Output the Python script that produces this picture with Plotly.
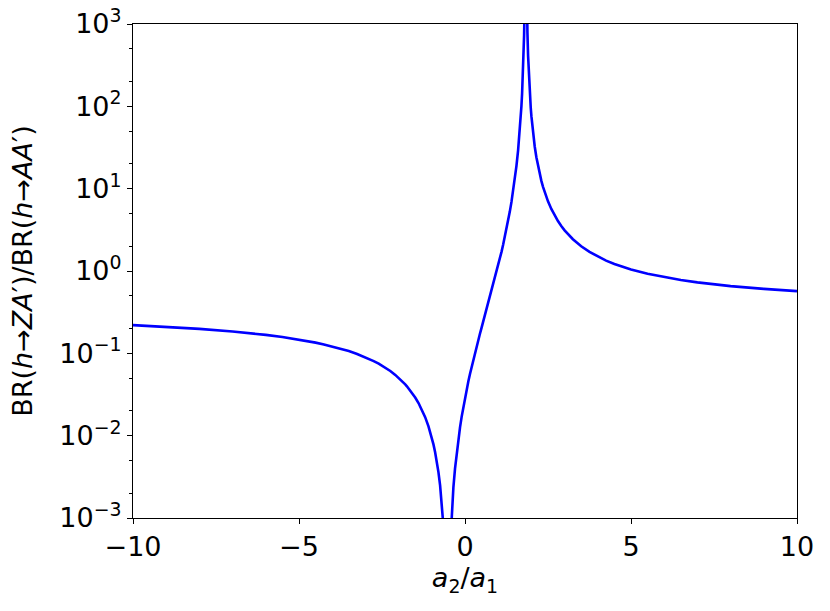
import plotly.graph_objects as go

# a2/a1 values and the ratio
# left part: from -10 up to the pole near a2/a1 = 1.83
ratio_x = [-10, -9, -8, -7, -6.5, -6, -5.5, -5, -4.5, -4.25, -4, -3.75, -3.5, -3.25,
           -3, -2.75, -2.6, -2.5, -2.4, -2.25, -2.1, -2, -1.9, -1.8, -1.75, -1.6,
           -1.5, -1.4, -1.3, -1.25, -1.2, -1.1, -1.05, -1.0, -0.95, -0.9, -0.85,
           -0.8, -0.75, -0.7, -0.68, -0.65, -0.63, -0.6, -0.55,
           -0.51, -0.45, -0.42, -0.4, -0.38, -0.35, -0.3, -0.25, -0.2, -0.15, -0.1,
           -0.05, 0.0, 0.05, 0.1, 0.15, 0.2, 0.25, 0.3, 0.35, 0.4, 0.45, 0.5, 0.55,
           0.6, 0.65, 0.7, 0.75, 0.8, 0.85, 0.9, 0.95, 1.0, 1.05, 1.1, 1.15, 1.2,
           1.25, 1.3, 1.35, 1.4, 1.45, 1.5, 1.55, 1.6, 1.65, 1.7, 1.72, 1.75, 1.76,
           1.78, 1.8, 1.82]
ratio_y = [0.2198, 0.2098, 0.1981, 0.1842, 0.1762, 0.1674, 0.1577, 0.1469, 0.1349,
           0.1284, 0.1215, 0.1142, 0.1065, 0.0983, 0.0897, 0.0806, 0.0749, 0.0710,
           0.0670, 0.0610, 0.0547, 0.0505, 0.0463, 0.0420, 0.0398, 0.0334, 0.0291,
           0.0249, 0.02076, 0.0187, 0.01677, 0.01298, 0.01118, 0.00946, 0.00783,
           0.00630, 0.00489, 0.00361, 0.00249, 0.001549, 0.001225, 0.000803,
           0.000567, 0.000285, 2.42e-5,
           2.5e-5, 0.000422, 0.00082, 0.001166, 0.00158, 0.002339, 0.0040, 0.00622,
           0.00906, 0.01263, 0.01703, 0.02236, 0.02877, 0.0364, 0.0455, 0.0562,
           0.0688, 0.0836, 0.1009, 0.1213, 0.1451, 0.1730, 0.2057, 0.2442, 0.2895,
           0.343, 0.4064, 0.482, 0.5719, 0.680, 0.811, 0.970, 1.1656, 1.407, 1.710,
           2.094, 2.587, 3.231, 4.089, 5.262, 6.91, 9.312, 12.98, 18.93, 29.4, 50.31,
           100.9, 143.5, 278.6, 367, 732, 2069, 18942]

# right part: from the pole out to 10
right_x = [1.84, 1.86, 1.88, 1.9, 1.92, 1.95, 1.98, 2.0, 2.05, 2.1, 2.15, 2.2, 2.25,
           2.3, 2.35, 2.4, 2.5, 2.6, 2.7, 2.8, 2.9, 3.0, 3.25, 3.5, 3.75, 4.0, 4.25,
           4.5, 5, 5.5, 6, 6.5, 7, 7.5, 8, 9, 10]
right_y = [19266, 2177, 796.9, 413.3, 254.2, 146.5, 96.05, 75.97, 47.17, 32.55, 24.06,
           18.67, 15.03, 12.43, 10.52, 9.064, 7.015, 5.668, 4.728, 4.043, 3.525, 3.122,
           2.431, 1.997, 1.704, 1.495, 1.338, 1.217, 1.044, 0.926, 0.841, 0.7773,
           0.7277, 0.688, 0.6556, 0.6059, 0.5698]

y_ticks = [1e-3, 1e-2, 1e-1, 1, 10, 100, 1000]
y_labels = ["10<sup>\u22123</sup>", "10<sup>\u22122</sup>", "10<sup>\u22121</sup>",
            "10<sup>0</sup>", "10<sup>1</sup>", "10<sup>2</sup>", "10<sup>3</sup>"]
x_ticks = [-10, -5, 0, 5, 10]
x_labels = ["\u221210", "\u22125", "0", "5", "10"]

FONT = dict(family='DejaVu Sans', size=27, color='black')

fig = go.Figure()
for xs, ys in [(ratio_x, ratio_y), (right_x, right_y)]:
    fig.add_trace(go.Scatter(
        x=xs, y=ys, mode='lines',
        line=dict(color='#0000ff', width=2.6),
        showlegend=False, hoverinfo='skip'
    ))

axis_style = dict(
    showline=True, linecolor='black', linewidth=1.1, mirror=True,
    showgrid=False, zeroline=False, automargin=False,
    ticks='outside', ticklen=5, tickwidth=1.1, tickcolor='black',
    tickfont=FONT, ticklabeloverflow='allow',
)

fig.update_xaxes(
    range=[-10, 10], tickvals=x_ticks, ticktext=x_labels,
    title=dict(text='<i>a</i><sub>2</sub>/<i>a</i><sub>1</sub>', font=FONT, standoff=6),
    **axis_style
)
fig.update_yaxes(
    type='log', range=[-3, 3], tickvals=y_ticks, ticktext=y_labels,
    minor=dict(ticks='outside', ticklen=2.5, tickwidth=0.8, tickcolor='black',
               showgrid=False),
    title=dict(text='BR(<i>h</i>\u2192<i>ZA</i>\u2032)/BR(<i>h</i>\u2192<i>AA</i>\u2032)',
               font=FONT, standoff=18),
    **axis_style
)

fig.update_layout(
    width=830, height=611,
    margin=dict(l=133, r=33, t=24, b=93),
    plot_bgcolor='white', paper_bgcolor='white',
    font=dict(family='DejaVu Sans', color='black'),
)

# drop the page's default body margin so the figure fills the window
fig.write_html("out.html", config={'displayModeBar': False},
               post_script="document.body.style.margin='0';")
